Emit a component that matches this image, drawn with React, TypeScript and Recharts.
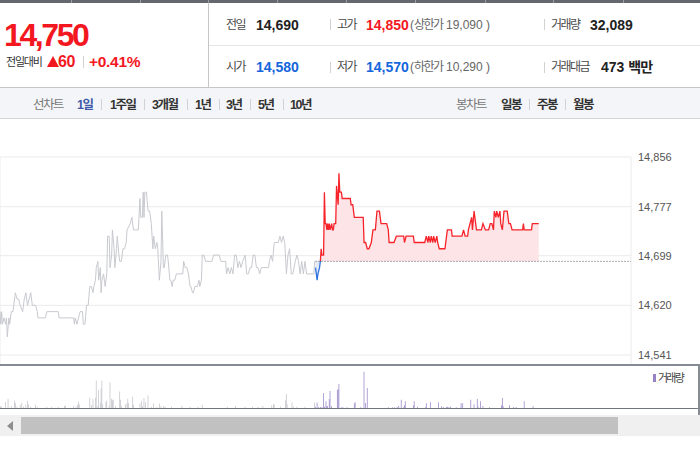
import React from 'react';
import { ComposedChart, Line, Area, Bar, Cell, XAxis, YAxis, CartesianGrid, ReferenceLine } from 'recharts';

const PREV_CLOSE = 14690;
const DAY_MINUTES = 390; // 09:00 - 15:30
const TOTAL_MINUTES = 780;
const PRICE_TICKS = [14541, 14620, 14699, 14777, 14856];
const HOUR_TICKS = [0, 60, 120, 180, 240, 300, 360, 390, 450, 510, 570, 630, 690, 750];
const VOL_TICKS = [0, 390, 450, 510, 570, 630, 690, 750];

// previous session: [minute since 09:00, price]
const PREV_DAY: [number, number][] = [
  [0,14610],[1,14590],[2,14610],[3,14590],[5,14600],[7,14590],[8,14600],[9,14570],[11,14600],[12,14590],
  [14,14610],[16,14610],[19,14640],[21,14630],[23,14630],[25,14620],[28,14610],[30,14630],[32,14640],[34,14620],
  [36,14630],[38,14640],[40,14620],[44,14620],[46,14610],[47,14600],[56,14600],[58,14610],[72,14610],[73,14600],
  [91,14600],[92,14590],[93,14600],[95,14590],[97,14600],[99,14610],[102,14610],[103,14590],[105,14590],[107,14620],
  [109,14620],[111,14650],[113,14650],[115,14640],[116,14650],[118,14660],[119,14680],[121,14690],[122,14660],[124,14680],
  [125,14640],[126,14660],[128,14670],[130,14650],[132,14670],[133,14730],[135,14730],[136,14680],[138,14700],[139,14740],
  [141,14710],[142,14680],[144,14710],[145,14730],[147,14700],[148,14690],[150,14690],[152,14710],[154,14710],[156,14720],
  [157,14740],[161,14750],[163,14760],[165,14740],[171,14740],[173,14790],[174,14760],[176,14760],[177,14800],[178,14760],
  [179,14800],[181,14800],[183,14770],[185,14770],[187,14750],[189,14710],[190,14730],[192,14710],[194,14720],[195,14710],
  [197,14660],[199,14690],[200,14770],[202,14680],[203,14680],[205,14700],[207,14700],[208,14690],[210,14660],[211,14660],
  [213,14650],[214,14660],[216,14660],[218,14670],[226,14670],[227,14690],[229,14680],[231,14680],[233,14670],[235,14650],
  [236,14650],[238,14640],[239,14640],[241,14650],[244,14650],[246,14660],[247,14650],[249,14660],[250,14700],[252,14700],
  [254,14690],[262,14690],[264,14700],[271,14700],[273,14690],[279,14690],[280,14670],[282,14680],[284,14670],[286,14680],
  [288,14670],[290,14700],[292,14700],[294,14680],[296,14690],[298,14680],[300,14690],[303,14700],[305,14670],[307,14670],
  [309,14680],[311,14680],[313,14700],[315,14700],[317,14680],[319,14680],[321,14670],[323,14680],[332,14680],[333,14690],
  [335,14700],[337,14690],[339,14720],[341,14720],[344,14720],[346,14730],[348,14720],[350,14730],[352,14720],[354,14670],
  [356,14700],[358,14710],[360,14670],[362,14670],[365,14690],[367,14700],[369,14690],[371,14670],[373,14690],[375,14670],
  [377,14690],[379,14670],[388,14670],[389,14690],
];

// today: [minute since 09:00, price]
const TODAY: [number, number][] = [
  [0,14680],[2,14660],[3,14670],[5,14680],[6,14690],[7,14710],[8,14700],[10,14700],[11,14800],[12,14750],
  [13,14750],[14,14740],[15,14750],[16,14740],[17,14750],[18,14740],[20,14750],[21,14740],[22,14740],[23,14750],
  [25,14750],[26,14810],[28,14780],[29,14830],[30,14800],[32,14800],[33,14790],[43,14790],[44,14780],[46,14780],
  [48,14760],[59,14760],[60,14720],[62,14720],[64,14710],[66,14710],[69,14720],[71,14740],[74,14740],[76,14770],
  [79,14770],[81,14750],[88,14750],[90,14740],[91,14720],[97,14720],[100,14730],[109,14730],[110,14720],[112,14730],
  [121,14730],[122,14720],[135,14720],[137,14730],[139,14720],[140,14730],[142,14720],[143,14730],[145,14720],[146,14730],
  [148,14720],[150,14730],[151,14720],[153,14710],[160,14710],[162,14730],[163,14740],[168,14740],[169,14730],[181,14730],
  [183,14740],[185,14730],[188,14730],[189,14740],[191,14750],[193,14760],[194,14740],[196,14770],[198,14750],[199,14740],
  [205,14740],[207,14750],[210,14740],[214,14740],[216,14750],[218,14750],[220,14740],[221,14770],[223,14760],[224,14770],
  [226,14760],[228,14770],[229,14750],[231,14740],[233,14770],[237,14770],[239,14750],[241,14750],[243,14740],[256,14740],
  [257,14750],[258,14740],[267,14740],[268,14750],[276,14750],
];

// volume: [minute on the two-session axis, shares]
const VOLUME: [number, number][] = [
  [1,160],[2,100],[7,480],[10,720],[14,160],[18,560],[19,400],[21,100],[25,240],[27,400],[29,100],[32,240],[34,560],
  [35,320],[38,100],[44,260],[46,100],[58,100],[64,100],[72,100],[80,180],[81,180],[91,180],[94,100],[96,260],[97,500],
  [98,300],[111,800],[113,240],[115,700],[118,800],[119,2160],[121,160],[122,1440],[124,430],[125,1580],[126,2160],
  [127,300],[131,500],[132,580],[135,160],[136,2020],[138,720],[139,610],[140,670],[143,160],[148,1300],[149,640],
  [150,160],[155,300],[157,380],[158,720],[159,380],[164,880],[165,240],[173,350],[175,560],[176,160],[178,780],
  [180,450],[183,990],[187,100],[190,350],[194,100],[197,350],[199,160],[202,160],[204,100],[212,100],[225,180],
  [235,100],[245,100],[250,260],[281,100],[291,160],[303,100],[312,100],[319,100],[325,160],[336,220],[338,320],
  [339,260],[347,100],[353,610],[354,1100],[355,300],[361,430],[363,100],[367,100],[377,100],[389,430],
  [390,100],[392,430],[394,80],[396,80],[398,80],[400,1170],[401,100],[403,530],[404,160],[405,130],[407,700],
  [408,1330],[410,130],[417,1410],[418,1490],[419,1890],[422,60],[424,60],[429,60],[438,370],[439,450],[446,60],
  [450,2850],[452,400],[454,1570],[480,60],[485,60],[488,60],[491,80],[493,160],[496,640],[499,60],[500,210],
  [501,530],[511,210],[512,530],[516,100],[526,60],[527,370],[532,450],[542,450],[546,130],[548,80],[552,80],
  [553,100],[555,80],[557,100],[564,60],[570,370],[572,370],[582,640],[586,300],[590,700],[591,100],[594,530],
  [597,160],[605,60],[620,210],[621,780],[622,130],[630,210],[635,80],[638,80],[648,530],[659,130],
];

const LINE_TABS = ['1일', '1주일', '3개월', '1년', '3년', '5년', '10년'];
const LINE_TAB_X = [77, 110, 152, 195, 226, 258, 290];
const LINE_SEP_X = [101, 144, 187, 219, 250, 283];
const CANDLE_TABS = ['일봉', '주봉', '월봉'];
const CANDLE_TAB_X = [501, 537, 573];
const CANDLE_SEP_X = [529, 565];
const STRIP_SEP_X = [71, 140, 208, 277, 346, 415, 485, 553, 623];

const FONT = '"Liberation Sans", Arial, "Noto Sans CJK KR", sans-serif';
const RED = '#f3181f';
const BLUE = '#1466dc';

type TProps = { x: number; cy: number; size?: number; lh?: number; color?: string; bold?: boolean; ls?: number; children: React.ReactNode };
const T = ({ x, cy, size = 12, lh = 16, color = '#555', bold = false, ls = 0, children }: TProps) => (
  <div style={{ position: 'absolute', left: x, top: cy - lh / 2, lineHeight: lh + 'px', height: lh, fontSize: size, color, fontWeight: bold ? 700 : 400, letterSpacing: ls, whiteSpace: 'nowrap', fontFamily: FONT }}>{children}</div>
);
const Sep = ({ x, top, h, color = '#d2d2d2' }: { x: number; top: number; h: number; color?: string }) => (
  <div style={{ position: 'absolute', left: x, top, width: 1, height: h, background: color }} />
);
const K = ({ children, ls = -1.5 }: { children: React.ReactNode; ls?: number }) => <span style={{ letterSpacing: ls }}>{children}</span>;

export default function App() {
  const priceData = [
    ...PREV_DAY.map(([t, p]) => ({ t, prev: p })),
    ...TODAY.map(([m, p]) => ({ t: DAY_MINUTES + m, today: p })),
  ];
  const todayVals = TODAY.map((d) => d[1]);
  const hi = Math.max(...todayVals);
  const lo = Math.min(...todayVals);
  const off = (hi - PREV_CLOSE) / (hi - lo);
  const volData = VOLUME.map(([t, v]) => ({ t, v }));

  return (
    <div style={{ position: 'absolute', left: 0, top: 0, width: 700, height: 450, background: '#fff', overflow: 'hidden', fontFamily: FONT }}>
      {/* top strip */}
      <div style={{ position: 'absolute', left: 0, top: 0, width: 700, height: 3, background: '#64676d' }} />
      {STRIP_SEP_X.map((x) => <Sep key={x} x={x} top={0} h={3} color="#9a9da2" />)}

      {/* left price box */}
      <T x={4} cy={35} size={32} lh={32} color={RED} bold ls={-2.4}>14,750</T>
      <T x={6} cy={62} size={11} color="#333"><K ls={-1.2}>전일대비</K></T>
      <div style={{ position: 'absolute', left: 47, top: 56, width: 0, height: 0, borderLeft: '6px solid transparent', borderRight: '6px solid transparent', borderBottom: `11px solid ${RED}` }} />
      <T x={58} cy={62} size={16} lh={18} color={RED} bold ls={-0.5}>60</T>
      <Sep x={83} top={56} h={12} />
      <T x={89} cy={62} size={15.5} lh={18} color={RED} bold ls={-0.3}>+0.41%</T>

      {/* header dividers */}
      <Sep x={208} top={3} h={85} color="#c6c6c6" />
      <div style={{ position: 'absolute', left: 209, top: 45, width: 491, height: 1, background: '#e6e6e6' }} />

      {/* row 1 */}
      <T x={226} cy={24.5} color="#4a4a4a"><K>전일</K></T>
      <T x={256} cy={24.5} size={14} color="#222" bold>14,690</T>
      <Sep x={330} top={19} h={11} />
      <T x={337} cy={24.5} color="#4a4a4a"><K>고가</K></T>
      <T x={366} cy={24.5} size={14} color={RED} bold>14,850</T>
      <T x={410} cy={24.5} color="#666"><span>(</span><K>상한가</K> 19,090 )</T>
      <Sep x={544} top={19} h={11} />
      <T x={551} cy={24.5} color="#4a4a4a"><K>거래량</K></T>
      <T x={590} cy={24.5} size={14} color="#222" bold>32,089</T>

      {/* row 2 */}
      <T x={226} cy={67} color="#4a4a4a"><K>시가</K></T>
      <T x={256} cy={67} size={14} color={BLUE} bold>14,580</T>
      <Sep x={330} top={61.5} h={11} />
      <T x={337} cy={67} color="#4a4a4a"><K>저가</K></T>
      <T x={366} cy={67} size={14} color={BLUE} bold>14,570</T>
      <T x={410} cy={67} color="#666"><span>(</span><K>하한가</K> 10,290 )</T>
      <Sep x={544} top={61.5} h={11} />
      <T x={551} cy={67} color="#4a4a4a"><K>거래대금</K></T>
      <T x={601} cy={67} size={14} color="#222" bold>473 <K ls={-1}>백만</K></T>

      {/* tab bar */}
      <div style={{ position: 'absolute', left: 0, top: 87, width: 700, height: 32, boxSizing: 'border-box', background: '#f4f5f8', borderTop: '1px solid #c6c6c6', borderBottom: '1px solid #d6d6d6' }} />
      <T x={33} cy={104.5} size={12.5} color="#777"><K>선차트</K></T>
      {LINE_TABS.map((s, i) => (
        <T key={s} x={LINE_TAB_X[i]} cy={104.5} size={12.5} color={i === 0 ? '#3d58a8' : '#333'} bold><K>{s}</K></T>
      ))}
      {LINE_SEP_X.map((x) => <Sep key={x} x={x} top={99} h={11} />)}
      <T x={456} cy={104.5} size={12.5} color="#777"><K>봉차트</K></T>
      {CANDLE_TABS.map((s, i) => (
        <T key={s} x={CANDLE_TAB_X[i]} cy={104.5} size={12.5} color="#333" bold><K>{s}</K></T>
      ))}
      {CANDLE_SEP_X.map((x) => <Sep key={x} x={x} top={99} h={11} />)}

      {/* price chart */}
      <div style={{ position: 'absolute', left: 0, top: 119 }}>
        <ComposedChart width={700} height={247} data={priceData} margin={{ top: 38, right: 0, bottom: 0, left: 0 }}>
          <defs>
            <linearGradient id="todayStroke" x1="0" y1="0" x2="0" y2="1">
              <stop offset={0} stopColor="#f7232b" />
              <stop offset={off} stopColor="#f7232b" />
              <stop offset={off} stopColor="#3173e0" />
              <stop offset={1} stopColor="#3173e0" />
            </linearGradient>
            <linearGradient id="todayFill" x1="0" y1="0" x2="0" y2="1">
              <stop offset={0} stopColor="#fde4e6" />
              <stop offset={off} stopColor="#fde4e6" />
              <stop offset={off} stopColor="#e2eaf8" />
              <stop offset={1} stopColor="#e2eaf8" />
            </linearGradient>
          </defs>
          <CartesianGrid stroke="#ebebeb" strokeWidth={1} />
          <XAxis dataKey="t" type="number" domain={[0, TOTAL_MINUTES]} ticks={HOUR_TICKS} interval={0} allowDataOverflow tick={false} tickLine={false} axisLine={false} height={1} />
          <YAxis orientation="right" width={69} type="number" domain={[14525.1, 14856]} ticks={PRICE_TICKS} interval={0} allowDataOverflow tickLine={false} axisLine={false} tickSize={6} tickMargin={1} tick={{ fill: '#555', fontSize: 11, fontFamily: FONT }} tickFormatter={(v: number) => v.toLocaleString('en-US')} />
          <Line dataKey="prev" type="linear" stroke="#c8cacf" strokeWidth={1} dot={false} activeDot={false} isAnimationActive={false} />
          <Area dataKey="today" type="linear" baseValue={PREV_CLOSE} stroke="url(#todayStroke)" strokeWidth={1.3} fill="url(#todayFill)" fillOpacity={1} dot={false} activeDot={false} isAnimationActive={false} />
          <ReferenceLine segment={[{ x: DAY_MINUTES, y: PREV_CLOSE }, { x: TOTAL_MINUTES, y: PREV_CLOSE }]} stroke="#555" strokeDasharray="1 2" />
        </ComposedChart>
      </div>

      {/* volume chart */}
      <div style={{ position: 'absolute', left: 0, top: 362 }}>
        <ComposedChart width={700} height={52} data={volData} margin={{ top: 4, right: 69, bottom: 0, left: 0 }}>
          <XAxis dataKey="t" type="number" domain={[0, TOTAL_MINUTES]} ticks={VOL_TICKS} interval={0} allowDataOverflow tick={false} tickLine={{ stroke: '#333' }} tickSize={5} axisLine={false} height={6} />
          <YAxis hide domain={[0, 3300]} allowDataOverflow />
          <Bar dataKey="v" barSize={1} isAnimationActive={false}>
            {volData.map((d, i) => (
              <Cell key={i} fill={d.t >= DAY_MINUTES ? '#9583c5' : '#c2c3c9'} />
            ))}
          </Bar>
        </ComposedChart>
      </div>

      {/* axis frame lines */}
      <div style={{ position: 'absolute', left: 0, top: 364, width: 700, height: 2, background: '#868b93' }} />
      <div style={{ position: 'absolute', left: 0, top: 408, width: 700, height: 1, background: '#72777e' }} />
      <div style={{ position: 'absolute', left: 698, top: 365, width: 2, height: 50, background: '#878c93' }} />

      {/* volume legend */}
      <div style={{ position: 'absolute', left: 653, top: 374, width: 3, height: 8, background: '#9583c5' }} />
      <T x={658} cy={378} size={11} lh={14} color="#444"><K ls={-1.8}>거래량</K></T>

      {/* scrollbar */}
      <div style={{ position: 'absolute', left: 0, top: 415, width: 700, height: 21, background: '#f0f0f0' }} />
      <div style={{ position: 'absolute', left: 7, top: 421, width: 0, height: 0, borderTop: '5px solid transparent', borderBottom: '5px solid transparent', borderRight: '6px solid #8e8e8e' }} />
      <div style={{ position: 'absolute', left: 21, top: 417, width: 597, height: 17, background: '#c1c1c1' }} />
    </div>
  );
}
